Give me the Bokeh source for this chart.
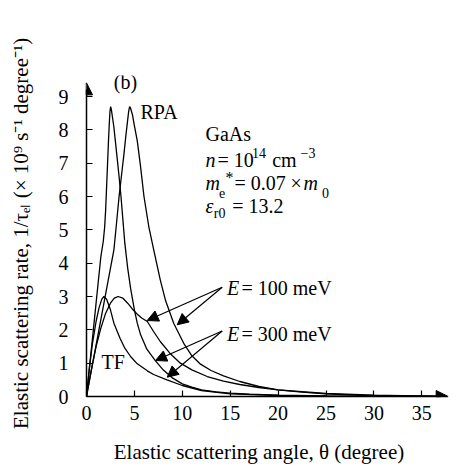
from bokeh.plotting import figure
from bokeh.models import Label, Arrow, NormalHead, FixedTicker, Range1d
from bokeh.embed import file_html
from bokeh.resources import INLINE

# ---- data ----
rpa300_x = [0, 0.5, 1.0, 1.5, 1.75, 1.9, 2.0, 2.1, 2.2, 2.3, 2.38, 2.45, 2.52, 2.6, 2.7, 2.85, 3.0, 3.2, 3.4, 3.6,
            3.8, 4.0, 4.3, 4.6, 5.0, 5.3, 5.65, 6.3, 7.2, 8.0, 9.0, 10.0, 11.0, 12.0, 13.5, 15, 17, 20, 25, 30, 35, 37.6]
rpa300_y = [0, 1.4, 2.8, 4.2, 4.65, 5.1, 5.6, 6.3, 7.0, 7.7, 8.2, 8.55, 8.7, 8.6, 8.4, 8.1, 7.7, 7.15, 6.6, 6.0,
            5.3, 4.6, 3.85, 3.25, 2.6, 2.2, 1.85, 1.42, 1.07, 0.8, 0.55, 0.38, 0.28, 0.2, 0.14, 0.1, 0.07, 0.04, 0.02, 0.01, 0.005, 0]

rpa100_x = [0, 1.0, 2.0, 2.86, 3.1, 3.4, 3.7, 3.9, 4.1, 4.26, 4.4, 4.5, 4.6, 4.8, 4.95, 5.3, 5.6, 6.0, 6.5, 7.04,
            7.7, 8.26, 9.1, 10.2, 11.0, 11.9, 13.0, 14.3, 16.0, 18.0, 20.0, 22.5, 25.0, 28.0, 32.0, 37.6]
rpa100_y = [0, 1.54, 3.08, 4.4, 5.1, 6.0, 6.75, 7.25, 7.8, 8.2, 8.55, 8.7, 8.65, 8.45, 8.2, 7.67, 7.0, 6.0, 5.1, 4.37,
            3.5, 2.87, 2.2, 1.57, 1.22, 0.97, 0.78, 0.62, 0.45, 0.3, 0.2, 0.13, 0.08, 0.04, 0.015, 0]

tf300_x = [0, 0.3, 0.6, 1.0, 1.3, 1.6, 1.82, 2.1, 2.5, 2.86, 3.5, 4.0, 4.6, 5.3, 6.35, 7.0, 8.4, 10.0, 12.0, 15.0, 20.0, 25.0, 37.6]
tf300_y = [0, 0.85, 1.55, 2.25, 2.65, 2.92, 3.0, 2.92, 2.6, 2.2, 1.75, 1.45, 1.2, 0.98, 0.77, 0.66, 0.5, 0.33, 0.18, 0.08, 0.03, 0.01, 0]

tf100_x = [0, 0.5, 1.0, 1.5, 2.0, 2.5, 2.9, 3.3, 3.8, 4.3, 4.8, 5.3, 5.8, 6.35, 7.0, 7.7, 8.7, 9.8, 11.0, 12.6, 14.3, 16.0, 18.0, 20.0, 25.0, 30.0, 37.6]
tf100_y = [0, 0.8, 1.5, 2.05, 2.5, 2.8, 2.95, 3.0, 2.95, 2.8, 2.62, 2.47, 2.35, 2.25, 1.95, 1.65, 1.3, 1.0, 0.8, 0.6, 0.46, 0.36, 0.27, 0.2, 0.09, 0.04, 0]

x_ticks = [0, 5, 10, 15, 20, 25, 30, 35]
y_ticks = [0, 1, 2, 3, 4, 5, 6, 7, 8, 9]

FONT = "Liberation Serif"
FS = "20px"
TITLE_FS = "21px"
SMALL = "14px"

X0, Y0 = 86.0, 396.0      # pixel position of the data origin
SX, SY = 9.58, 33.33      # pixels per data unit

p = figure(width=452, height=467, output_backend="svg", toolbar_location=None,
           x_range=Range1d(0, (452 - X0) / SX), y_range=Range1d(0, (Y0 - 75) / SY),
           min_border_left=86, min_border_right=0, min_border_top=75, min_border_bottom=71)
p.outline_line_color = None
p.grid.visible = False
p.background_fill_color = "white"

for ax in (p.xaxis[0], p.yaxis[0]):
    ax.axis_line_width = 1.5
    ax.axis_line_color = "black"
    ax.major_tick_in = 6
    ax.major_tick_out = 0
    ax.major_tick_line_width = 1.2
    ax.minor_tick_line_color = None
    ax.major_label_text_font = FONT
    ax.major_label_text_font_size = FS
    ax.major_label_text_color = "black"
    ax.axis_label_text_font = FONT
    ax.axis_label_text_font_size = TITLE_FS
    ax.axis_label_text_font_style = "normal"
    ax.axis_label_text_color = "black"
p.xaxis[0].ticker = FixedTicker(ticks=x_ticks)
p.yaxis[0].ticker = FixedTicker(ticks=y_ticks)
p.xaxis[0].bounds = (0, 37.0)
p.yaxis[0].bounds = (0, 9.2)
p.xaxis[0].major_label_standoff = 9
p.yaxis[0].major_label_standoff = 18
p.xaxis[0].axis_label = "Elastic scattering angle, θ (degree)\u00a0\u00a0\u00a0\u00a0"
p.xaxis[0].axis_label_standoff = 17
p.yaxis[0].axis_label = "\u00a0Elastic scattering rate, 1/τₑₗ (× 10⁹ s⁻¹ degree⁻¹)"
p.yaxis[0].axis_label_standoff = 23

for xs, ys in ((rpa300_x, rpa300_y), (rpa100_x, rpa100_y), (tf300_x, tf300_y), (tf100_x, tf100_y)):
    p.line(xs, ys, line_color="black", line_width=1.3)

# axis arrow heads
p.add_layout(Arrow(end=NormalHead(size=12, fill_color="black", line_color="black", line_width=1),
                   x_start=36.5, y_start=0, x_end=37.75, y_end=0, line_width=1.5, line_color="black"))
p.add_layout(Arrow(end=NormalHead(size=12, fill_color="black", line_color="black", line_width=1),
                   x_start=0, y_start=9.0, x_end=0, y_end=9.41, line_width=1.5, line_color="black"))

def px2x(px):
    return (px - X0) / SX

def py2y(py):
    return (Y0 - py) / SY

# annotation arrows (pixel positions)
arrows = [((221.7, 286.7), (146.7, 320.0)), ((221.7, 286.7), (176.7, 324.3)),
          ((221.7, 330.5), (155.0, 360.0)), ((221.7, 330.5), (166.7, 376.7))]
for (xs, ys), (xe, ye) in arrows:
    p.add_layout(Arrow(end=NormalHead(size=11, fill_color="black", line_color="black", line_width=1),
                       x_start=px2x(xs), y_start=py2y(ys), x_end=px2x(xe), y_end=py2y(ye),
                       line_width=1.2, line_color="black"))

def lab(text, px, py, italic=False, align="left", size=FS):
    p.add_layout(Label(x=px2x(px), y=py2y(py), text=text, text_font=FONT, text_font_size=size,
                       text_font_style="italic" if italic else "normal", text_align=align,
                       text_baseline="middle", text_color="black"))

lab("(b)", 125, 81, align="center")
lab("RPA", 140, 111.5)
lab("TF", 101, 361)
lab("GaAs", 205, 133)

lab("n", 205, 159, italic=True)
lab("= 10", 217, 159)
lab("14", 251.5, 152.5, size=SMALL)
lab("cm", 271.7, 159)
lab("−3", 300, 152.5, size=SMALL)

lab("m", 205, 182.5, italic=True)
lab("e", 218.5, 192, size=SMALL)
lab("*", 225, 177, size="16px")
lab("= 0.07", 234, 182.5)
lab("×", 290, 182.5)
lab("m", 303, 182.5, italic=True)
lab("0", 321.5, 192, size=SMALL)

lab("ε", 205, 205, italic=True)
lab("r0", 213.3, 213, size=SMALL)
lab("= 13.2", 231.7, 205)

lab("E", 226.5, 287, italic=True)
lab("= 100 meV", 241, 287)
lab("E", 226.5, 333, italic=True)
lab("= 300 meV", 241, 333)

open("out.html", "w").write(file_html(p, INLINE))
